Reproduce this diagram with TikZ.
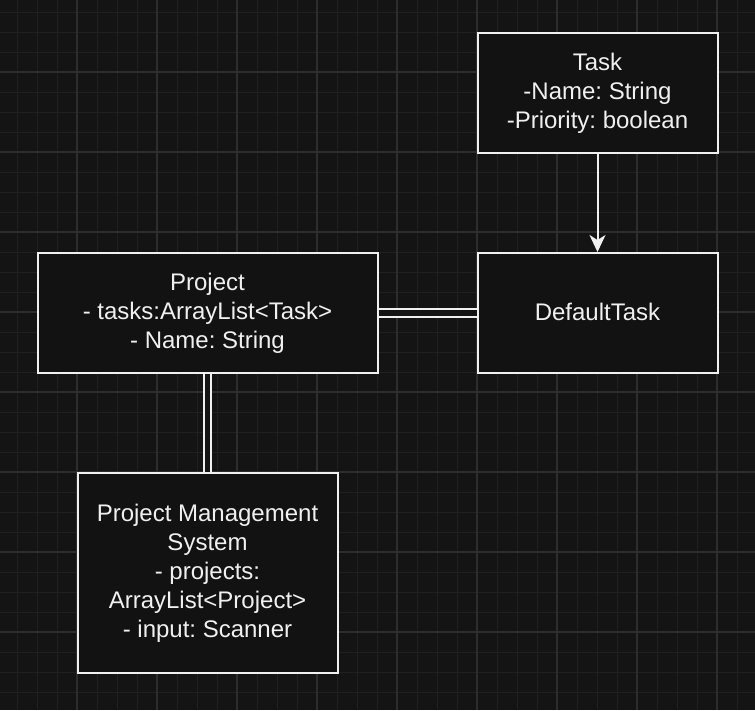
\documentclass[tikz,border=0pt]{standalone}
\usepackage{fontspec}
\setmainfont{Liberation Sans}
\usetikzlibrary{arrows.meta}
\definecolor{bgc}{HTML}{141414}
\definecolor{boxfill}{HTML}{121212}
\definecolor{minorc}{HTML}{202020}
\definecolor{majorc}{HTML}{2D2D2D}
\definecolor{fg}{HTML}{F0F0F0}
\tikzset{
  box/.style={draw=fg, fill=boxfill, line width=2pt, rectangle, inner sep=0pt,
    text=fg, align=center, font=\frenchspacing\fontsize{24}{29}\selectfont},
  link/.style={draw=fg, line width=2pt, double=bgc, double distance=5.5pt},
  arrowline/.style={draw=fg, line width=2pt, -{Stealth[length=17pt,width=16pt,inset=5pt]}},
  minorline/.style={draw=minorc, line width=1pt},
  majorline/.style={draw=majorc, line width=1.3pt}
}
\begin{document}
\begin{tikzpicture}[x=1pt,y=-1pt]
\fill[bgc] (0,0) rectangle (755,710);
\useasboundingbox (0,0) rectangle (755,710);
\foreach \x in {-3,17,...,757} \draw[minorline] (\x,0) -- (\x,710);
\foreach \y in {12,32,...,712} \draw[minorline] (0,\y) -- (755,\y);
\foreach \x in {-3,77,...,757} \draw[majorline] (\x,0) -- (\x,710);
\foreach \y in {-8,72,...,712} \draw[majorline] (0,\y) -- (755,\y);

\node[box, minimum width=240pt, minimum height=120pt] (task) at (597.5,93) {Task\\-Name: String\\-Priority: boolean};
\node[box, minimum width=240pt, minimum height=120pt] (default) at (597.5,313) {\raisebox{2pt}{DefaultTask}};
\node[box, minimum width=340pt, minimum height=120pt] (project) at (207.5,313) {Project\\- tasks:ArrayList<Task>\\- Name: String};
\node[box, minimum width=260pt, minimum height=200pt] (pms) at (207.5,573) {Project Management\\System\\- projects:\\ArrayList<Project>\\- input: Scanner};

\draw[link] (project.east) -- (default.west);
\draw[link] (project.south) -- (pms.north);
\draw[arrowline] (task.south) -- (default.north);
\end{tikzpicture}
\end{document}
